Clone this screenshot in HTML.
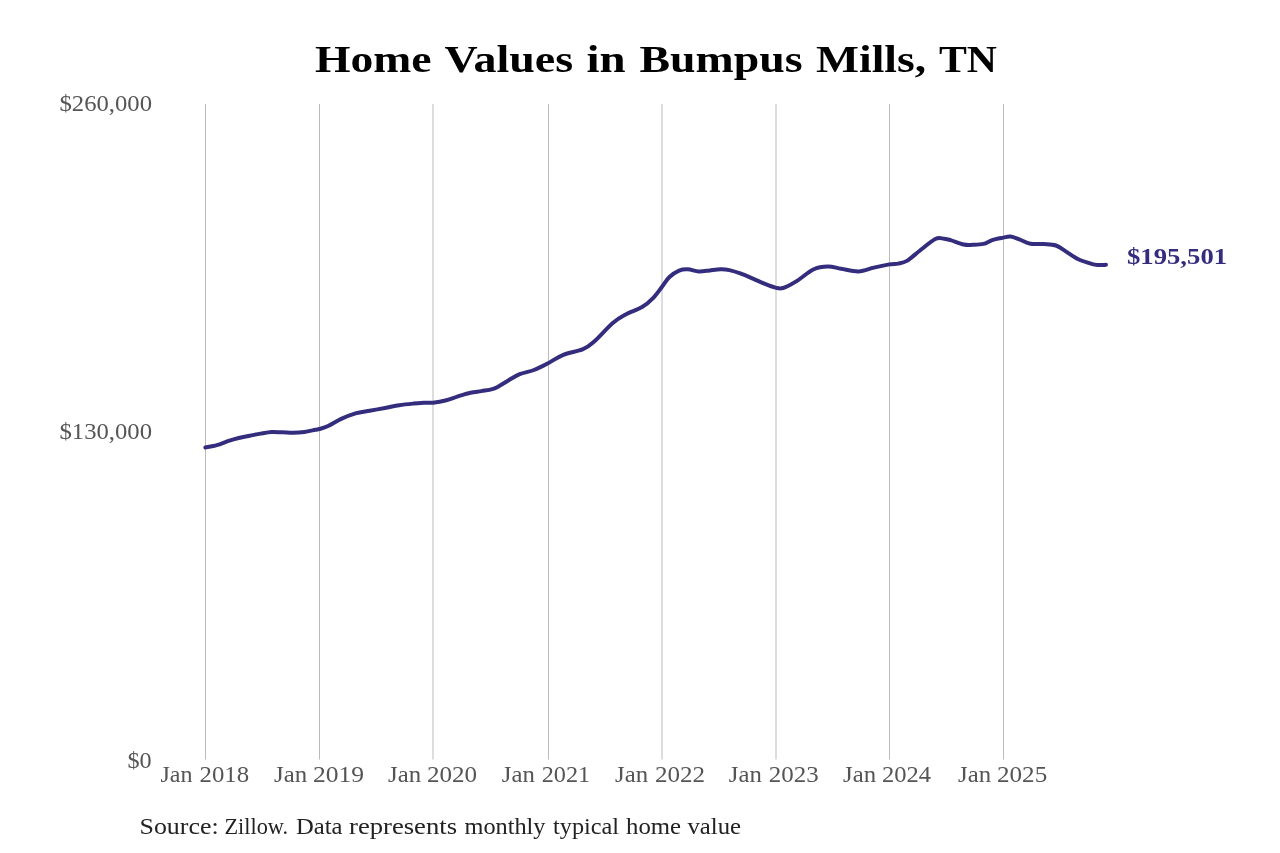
<!DOCTYPE html>
<html><head><meta charset="utf-8">
<style>
html,body{margin:0;padding:0;background:#fff;}
body{width:1280px;height:853px;overflow:hidden;}
svg{display:block;will-change:transform;}
text{font-family:"Liberation Serif", serif;}
</style></head>
<body>
<svg width="1280" height="853" viewBox="0 0 1280 853">
<rect width="1280" height="853" fill="#fff"/>
<text x="315.00" y="72.20" font-size="38.8" font-weight="bold" fill="#000" textLength="116.55" lengthAdjust="spacingAndGlyphs">Home</text>
<text x="444.50" y="72.20" font-size="38.8" font-weight="bold" fill="#000" textLength="128.53" lengthAdjust="spacingAndGlyphs">Values</text>
<text x="586.50" y="72.20" font-size="38.8" font-weight="bold" fill="#000" textLength="39.13" lengthAdjust="spacingAndGlyphs">in</text>
<text x="639.50" y="72.20" font-size="38.8" font-weight="bold" fill="#000" textLength="163.03" lengthAdjust="spacingAndGlyphs">Bumpus</text>
<text x="816.00" y="72.20" font-size="38.8" font-weight="bold" fill="#000" textLength="110.06" lengthAdjust="spacingAndGlyphs">Mills,</text>
<text x="939.00" y="72.20" font-size="38.8" font-weight="bold" fill="#000" textLength="58.03" lengthAdjust="spacingAndGlyphs">TN</text>
<g stroke="#bbbbbb" stroke-width="1">
<line x1="205.5" y1="104" x2="205.5" y2="759.5" />
<line x1="319.5" y1="104" x2="319.5" y2="759.5" />
<line x1="433.0" y1="104" x2="433.0" y2="759.5" />
<line x1="548.5" y1="104" x2="548.5" y2="759.5" />
<line x1="662.0" y1="104" x2="662.0" y2="759.5" />
<line x1="776.0" y1="104" x2="776.0" y2="759.5" />
<line x1="889.5" y1="104" x2="889.5" y2="759.5" />
<line x1="1003.5" y1="104" x2="1003.5" y2="759.5" />
</g>
<text x="59.50" y="110.60" font-size="23.6" font-weight="normal" fill="#555" textLength="92.56" lengthAdjust="spacingAndGlyphs">$260,000</text>
<text x="59.50" y="439.00" font-size="23.6" font-weight="normal" fill="#555" textLength="92.56" lengthAdjust="spacingAndGlyphs">$130,000</text>
<text x="127.50" y="767.70" font-size="23.6" font-weight="normal" fill="#555" textLength="24.20" lengthAdjust="spacingAndGlyphs">$0</text>
<text x="160.50" y="781.80" font-size="23.3" font-weight="normal" fill="#555" textLength="32.05" lengthAdjust="spacingAndGlyphs">Jan</text>
<text x="199.50" y="781.80" font-size="23.3" font-weight="normal" fill="#555" textLength="49.59" lengthAdjust="spacingAndGlyphs">2018</text>
<text x="274.00" y="781.80" font-size="23.3" font-weight="normal" fill="#555" textLength="33.09" lengthAdjust="spacingAndGlyphs">Jan</text>
<text x="313.00" y="781.80" font-size="23.3" font-weight="normal" fill="#555" textLength="51.14" lengthAdjust="spacingAndGlyphs">2019</text>
<text x="388.00" y="781.80" font-size="23.3" font-weight="normal" fill="#555" textLength="33.09" lengthAdjust="spacingAndGlyphs">Jan</text>
<text x="427.00" y="781.80" font-size="23.3" font-weight="normal" fill="#555" textLength="50.12" lengthAdjust="spacingAndGlyphs">2020</text>
<text x="501.75" y="781.80" font-size="23.3" font-weight="normal" fill="#555" textLength="33.05" lengthAdjust="spacingAndGlyphs">Jan</text>
<text x="541.75" y="781.80" font-size="23.3" font-weight="normal" fill="#555" textLength="48.41" lengthAdjust="spacingAndGlyphs">2021</text>
<text x="615.00" y="781.80" font-size="23.3" font-weight="normal" fill="#555" textLength="33.09" lengthAdjust="spacingAndGlyphs">Jan</text>
<text x="655.00" y="781.80" font-size="23.3" font-weight="normal" fill="#555" textLength="50.15" lengthAdjust="spacingAndGlyphs">2022</text>
<text x="728.75" y="781.80" font-size="23.3" font-weight="normal" fill="#555" textLength="33.05" lengthAdjust="spacingAndGlyphs">Jan</text>
<text x="768.75" y="781.80" font-size="23.3" font-weight="normal" fill="#555" textLength="49.89" lengthAdjust="spacingAndGlyphs">2023</text>
<text x="843.00" y="781.80" font-size="23.3" font-weight="normal" fill="#555" textLength="33.09" lengthAdjust="spacingAndGlyphs">Jan</text>
<text x="882.00" y="781.80" font-size="23.3" font-weight="normal" fill="#555" textLength="49.03" lengthAdjust="spacingAndGlyphs">2024</text>
<text x="958.00" y="781.80" font-size="23.3" font-weight="normal" fill="#555" textLength="33.09" lengthAdjust="spacingAndGlyphs">Jan</text>
<text x="997.00" y="781.80" font-size="23.3" font-weight="normal" fill="#555" textLength="50.17" lengthAdjust="spacingAndGlyphs">2025</text>
<path d="M205.4 447.5 C207.3 447.1 213.2 446.2 216.9 445.1 C220.6 444.1 224.2 442.4 227.8 441.2 C231.4 440.0 235.0 438.9 238.7 438.0 C242.3 437.1 246.0 436.5 249.7 435.8 C253.3 435.1 257.0 434.2 260.6 433.6 C264.2 433.0 268.0 432.2 271.6 432.0 C275.2 431.8 278.9 432.2 282.5 432.3 C286.1 432.4 289.8 432.9 293.4 432.8 C297.0 432.8 300.8 432.5 304.4 432.0 C308.0 431.5 312.8 430.3 315.3 429.8 C317.8 429.3 317.3 429.6 319.4 429.0 C321.5 428.4 324.5 427.7 328.1 426.0 C331.7 424.3 336.6 421.0 341.2 418.9 C345.8 416.8 350.8 414.8 355.5 413.4 C360.2 412.0 364.8 411.6 369.7 410.7 C374.6 409.8 380.1 408.9 385.0 408.0 C389.9 407.1 394.5 405.9 399.2 405.2 C403.9 404.5 409.2 404.0 413.4 403.6 C417.6 403.2 421.1 403.0 424.4 402.8 C427.7 402.6 429.4 403.1 433.1 402.7 C436.8 402.3 442.4 401.3 446.4 400.3 C450.4 399.3 453.3 397.9 457.3 396.6 C461.3 395.4 466.5 393.7 470.5 392.8 C474.5 391.9 477.8 391.7 481.4 391.1 C485.0 390.5 489.2 390.1 492.3 389.2 C495.4 388.3 497.3 387.1 500.0 385.6 C502.7 384.1 505.4 382.1 508.7 380.2 C512.0 378.3 515.5 375.8 519.7 374.1 C523.9 372.4 529.2 371.8 533.9 370.0 C538.6 368.2 543.2 365.7 548.1 363.2 C553.0 360.7 557.5 357.1 563.3 354.8 C569.1 352.5 577.9 351.4 583.0 349.2 C588.1 347.0 589.3 345.8 594.2 341.5 C599.1 337.2 607.3 327.7 612.5 323.2 C617.7 318.7 620.3 317.4 625.2 314.7 C630.1 312.0 637.4 309.8 642.1 307.0 C646.8 304.2 650.0 301.2 653.3 297.8 C656.6 294.4 659.4 290.2 662.0 286.8 C664.6 283.4 666.4 279.9 669.2 277.2 C672.1 274.5 676.0 271.9 679.1 270.6 C682.2 269.3 684.5 269.2 687.8 269.3 C691.1 269.4 695.1 271.2 698.7 271.4 C702.4 271.6 706.1 270.8 709.7 270.4 C713.4 270.0 717.3 269.4 720.6 269.3 C723.9 269.2 726.1 269.4 729.4 270.1 C732.7 270.8 736.3 271.9 740.3 273.4 C744.3 274.8 749.4 277.1 753.4 278.8 C757.4 280.5 760.7 282.2 764.4 283.7 C768.1 285.2 772.3 286.9 775.4 287.6 C778.5 288.3 779.6 289.0 783.1 288.0 C786.6 287.0 791.1 284.5 796.2 281.4 C801.3 278.3 808.4 271.7 813.7 269.2 C819.0 266.7 823.4 266.6 828.0 266.5 C832.6 266.4 836.0 267.9 841.1 268.7 C846.2 269.5 853.1 271.6 858.6 271.4 C864.1 271.2 868.8 268.8 873.9 267.6 C879.0 266.4 885.3 265.1 889.3 264.4 C893.3 263.7 895.2 264.2 898.1 263.6 C901.0 263.0 903.2 263.1 906.9 260.9 C910.5 258.7 915.3 254.2 920.0 250.5 C924.7 246.8 931.3 241.0 935.3 239.0 C939.3 237.0 941.5 238.5 944.1 238.7 C946.7 238.9 947.3 239.1 950.6 240.1 C953.9 241.1 960.1 243.7 963.7 244.5 C967.4 245.3 969.2 244.9 972.5 244.8 C975.8 244.7 980.1 244.7 983.4 243.9 C986.7 243.1 988.9 241.2 992.2 240.1 C995.5 239.0 1000.4 238.2 1003.4 237.6 C1006.4 237.0 1007.8 236.3 1010.5 236.6 C1013.2 236.9 1016.1 238.2 1019.4 239.4 C1022.7 240.6 1026.4 242.9 1030.5 243.7 C1034.6 244.5 1039.6 243.8 1043.8 244.1 C1048.0 244.4 1052.2 244.2 1055.9 245.5 C1059.6 246.8 1062.4 249.3 1066.1 251.6 C1069.8 253.9 1074.1 257.2 1078.3 259.2 C1082.5 261.2 1088.1 262.8 1091.5 263.8 C1094.9 264.8 1096.2 264.8 1098.6 265.0 C1101.0 265.2 1104.8 264.8 1106.0 264.8" fill="none" stroke="#342d7e" stroke-width="4" stroke-linecap="round" stroke-linejoin="round"/>
<text x="1127.00" y="263.90" font-size="22.5" font-weight="bold" fill="#342d7e" textLength="100.07" lengthAdjust="spacingAndGlyphs">$195,501</text>
<text x="139.50" y="834.30" font-size="23.8" font-weight="normal" fill="#222" textLength="79.18" lengthAdjust="spacingAndGlyphs">Source:</text>
<text x="224.50" y="834.30" font-size="23.8" font-weight="normal" fill="#222" textLength="63.59" lengthAdjust="spacingAndGlyphs">Zillow.</text>
<text x="296.00" y="834.30" font-size="23.8" font-weight="normal" fill="#222" textLength="46.54" lengthAdjust="spacingAndGlyphs">Data</text>
<text x="349.00" y="834.30" font-size="23.8" font-weight="normal" fill="#222" textLength="108.04" lengthAdjust="spacingAndGlyphs">represents</text>
<text x="464.50" y="834.30" font-size="23.8" font-weight="normal" fill="#222" textLength="81.01" lengthAdjust="spacingAndGlyphs">monthly</text>
<text x="553.00" y="834.30" font-size="23.8" font-weight="normal" fill="#222" textLength="66.06" lengthAdjust="spacingAndGlyphs">typical</text>
<text x="626.00" y="834.30" font-size="23.8" font-weight="normal" fill="#222" textLength="55.05" lengthAdjust="spacingAndGlyphs">home</text>
<text x="687.50" y="834.30" font-size="23.8" font-weight="normal" fill="#222" textLength="53.54" lengthAdjust="spacingAndGlyphs">value</text>
</svg>
</body></html>
